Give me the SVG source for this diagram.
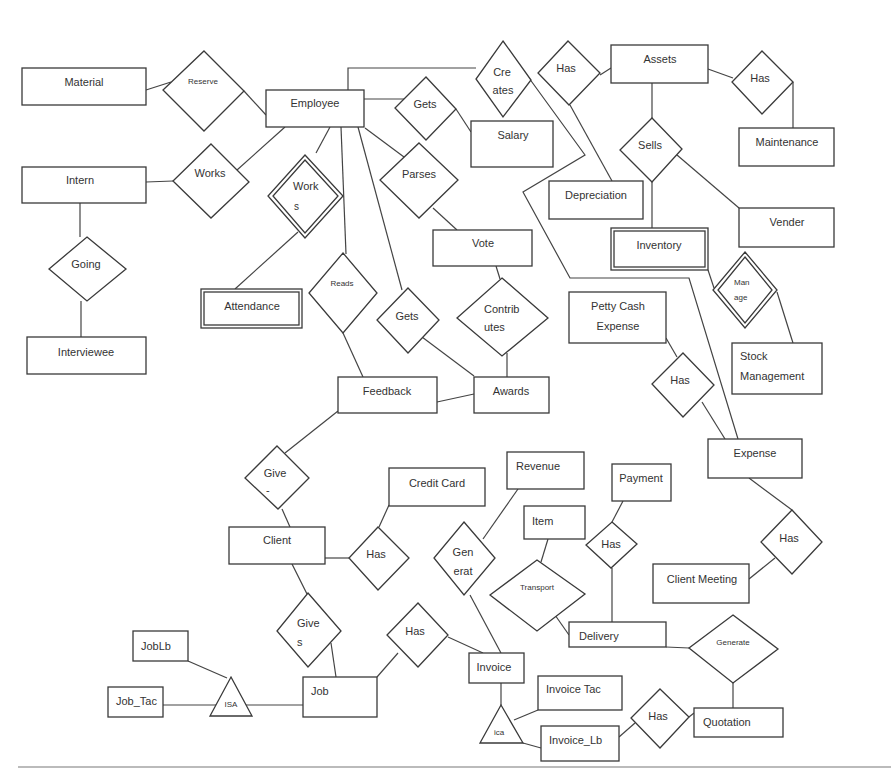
<svg xmlns="http://www.w3.org/2000/svg" width="891" height="771" viewBox="0 0 891 771">
<style>
rect,polygon{fill:#fff;stroke:#3a3a3a;stroke-width:1.3}
.c line,.c polyline{stroke:#444;stroke-width:1.2;fill:none}
text{font-family:"Liberation Sans",Arial,sans-serif;font-size:11px;fill:#333}
.m{text-anchor:middle}
.s{font-size:8px}
</style>
<rect x="0" y="0" width="891" height="771" style="fill:#fff;stroke:none"/>
<g id="connectors" class="c">
<line x1="146" y1="90" x2="171" y2="82"/>
<line x1="244" y1="91" x2="266" y2="115"/>
<line x1="146" y1="182" x2="173" y2="181"/>
<line x1="237" y1="170" x2="285" y2="127"/>
<line x1="80" y1="203" x2="80" y2="237"/>
<line x1="81" y1="301" x2="81" y2="337"/>
<polyline points="348,90 348,68 476,68"/>
<line x1="364" y1="99" x2="404" y2="99"/>
<line x1="456" y1="109" x2="471" y2="132"/>
<line x1="570" y1="105" x2="612" y2="181"/>
<line x1="600" y1="75" x2="611" y2="68"/>
<line x1="708" y1="69" x2="733" y2="78"/>
<line x1="793" y1="82" x2="793" y2="128"/>
<line x1="652" y1="83" x2="652" y2="118"/>
<line x1="652" y1="182" x2="652" y2="228"/>
<line x1="677" y1="155" x2="739" y2="208"/>
<polyline points="529,78 585,155 523,192 570,278 689,278 738,439"/>
<line x1="708" y1="270" x2="714" y2="288"/>
<line x1="777" y1="292" x2="793" y2="343"/>
<line x1="330" y1="127" x2="316" y2="153"/>
<line x1="298" y1="232" x2="235" y2="289"/>
<line x1="341" y1="127" x2="346" y2="254"/>
<line x1="343" y1="333" x2="363" y2="377"/>
<line x1="358" y1="127" x2="402" y2="290"/>
<line x1="422" y1="337" x2="474" y2="376"/>
<line x1="365" y1="128" x2="404" y2="157"/>
<line x1="433" y1="208" x2="457" y2="230"/>
<line x1="496" y1="266" x2="500" y2="279"/>
<line x1="507" y1="353" x2="507" y2="377"/>
<line x1="437" y1="402" x2="474" y2="394"/>
<line x1="338" y1="411" x2="285" y2="453"/>
<line x1="282" y1="509" x2="290" y2="527"/>
<line x1="325" y1="558" x2="349" y2="558"/>
<line x1="379" y1="527" x2="389" y2="505"/>
<line x1="292" y1="564" x2="307" y2="594"/>
<line x1="331" y1="643" x2="336" y2="677"/>
<line x1="377" y1="677" x2="398" y2="653"/>
<line x1="448" y1="637" x2="483" y2="653"/>
<line x1="470" y1="595" x2="501" y2="653"/>
<line x1="483" y1="539" x2="518" y2="489"/>
<line x1="548" y1="539" x2="541" y2="562"/>
<line x1="555" y1="615" x2="569" y2="635"/>
<line x1="623" y1="501" x2="612" y2="522"/>
<line x1="612" y1="568" x2="612" y2="622"/>
<line x1="666" y1="647" x2="689" y2="648"/>
<line x1="733" y1="683" x2="733" y2="708"/>
<line x1="689" y1="717" x2="694" y2="713"/>
<line x1="619" y1="737" x2="635" y2="723"/>
<line x1="501" y1="683" x2="501" y2="705"/>
<line x1="514" y1="720" x2="538" y2="710"/>
<line x1="523" y1="743" x2="541" y2="748"/>
<line x1="163" y1="705" x2="216" y2="705"/>
<line x1="246" y1="705" x2="303" y2="705"/>
<line x1="188" y1="661" x2="227" y2="678"/>
<line x1="666" y1="338" x2="677" y2="357"/>
<line x1="702" y1="402" x2="725" y2="439"/>
<line x1="749" y1="478" x2="792" y2="510"/>
<line x1="775" y1="558" x2="749" y2="579"/>
</g>
<line x1="18" y1="767" x2="891" y2="767" style="stroke:#bbb;stroke-width:2"/>
<g id="material"><rect x="22" y="68" width="124" height="37"/><text x="84" y="86" class="m">Material</text></g>
<g id="employee"><rect x="266" y="90" width="98" height="37"/><text x="315" y="107" class="m">Employee</text></g>
<g id="intern"><rect x="22" y="167" width="124" height="36"/><text x="80" y="184" class="m">Intern</text></g>
<g id="interviewee"><rect x="27" y="337" width="119" height="37"/><text x="86" y="356" class="m">Interviewee</text></g>
<g id="salary"><rect x="471" y="121" width="82" height="46"/><text x="513" y="139" class="m">Salary</text></g>
<g id="assets"><rect x="611" y="45" width="97" height="38"/><text x="660" y="63" class="m">Assets</text></g>
<g id="maintenance"><rect x="739" y="128" width="95" height="38"/><text x="787" y="146" class="m">Maintenance</text></g>
<g id="depreciation"><rect x="549" y="181" width="94" height="38"/><text x="596" y="199" class="m">Depreciation</text></g>
<g id="vender"><rect x="739" y="208" width="95" height="39"/><text x="787" y="226" class="m">Vender</text></g>
<g id="inventory"><rect x="611" y="228" width="97" height="42"/><rect x="614" y="231" width="91" height="36"/><text x="659" y="249" class="m">Inventory</text></g>
<g id="attendance"><rect x="201" y="289" width="101" height="39"/><rect x="204" y="292" width="95" height="33"/><text x="252" y="310" class="m">Attendance</text></g>
<g id="vote"><rect x="433" y="230" width="99" height="36"/><text x="483" y="247" class="m">Vote</text></g>
<g id="petty-cash-expense"><rect x="569" y="292" width="97" height="51"/><text x="618" y="310" class="m">Petty Cash</text><text x="618" y="330" class="m">Expense</text></g>
<g id="stock-management"><rect x="732" y="343" width="90" height="51"/><text x="740" y="360">Stock</text><text x="740" y="380">Management</text></g>
<g id="feedback"><rect x="338" y="377" width="99" height="36"/><text x="387" y="395" class="m">Feedback</text></g>
<g id="awards"><rect x="474" y="377" width="75" height="36"/><text x="511" y="395" class="m">Awards</text></g>
<g id="expense"><rect x="708" y="439" width="94" height="39"/><text x="755" y="457" class="m">Expense</text></g>
<g id="credit-card"><rect x="389" y="468" width="96" height="38"/><text x="437" y="487" class="m">Credit Card</text></g>
<g id="revenue"><rect x="507" y="452" width="77" height="37"/><text x="516" y="470">Revenue</text></g>
<g id="payment"><rect x="612" y="464" width="59" height="37"/><text x="641" y="482" class="m">Payment</text></g>
<g id="item"><rect x="524" y="506" width="61" height="33"/><text x="532" y="525">Item</text></g>
<g id="client"><rect x="229" y="527" width="96" height="37"/><text x="277" y="544" class="m">Client</text></g>
<g id="client-meeting"><rect x="653" y="564" width="96" height="39"/><text x="702" y="583" class="m">Client Meeting</text></g>
<g id="delivery"><rect x="569" y="622" width="97" height="25"/><text x="579" y="640">Delivery</text></g>
<g id="invoice"><rect x="469" y="653" width="55" height="30"/><text x="494" y="671" class="m">Invoice</text></g>
<g id="job"><rect x="303" y="677" width="74" height="40"/><text x="311" y="695">Job</text></g>
<g id="joblb"><rect x="133" y="631" width="55" height="30"/><text x="141" y="650">JobLb</text></g>
<g id="job-tac"><rect x="108" y="687" width="55" height="30"/><text x="116" y="705">Job_Tac</text></g>
<g id="invoice-tac"><rect x="538" y="676" width="84" height="34"/><text x="546" y="693">Invoice Tac</text></g>
<g id="invoice-lb"><rect x="541" y="726" width="78" height="35"/><text x="549" y="744">Invoice_Lb</text></g>
<g id="quotation"><rect x="694" y="708" width="89" height="29"/><text x="703" y="726">Quotation</text></g>
<g id="reserve"><polygon points="204,51 244,91 204,131 163,90"/><text x="203" y="84" class="m s">Reserve</text></g>
<g id="works"><polygon points="211,144 249,182 211,218 173,181"/><text x="210" y="177" class="m">Works</text></g>
<g id="creates"><polygon points="503,41 531,80 503,117 476,79"/><text x="502" y="76" class="m">Cre</text><text x="503" y="94" class="m">ates</text></g>
<g id="gets-salary"><polygon points="426,77 456,109 426,140 395,108"/><text x="425" y="108" class="m">Gets</text></g>
<g id="has-depreciation"><polygon points="568,41 600,73 569,105 538,73"/><text x="566" y="72" class="m">Has</text></g>
<g id="has-maintenance"><polygon points="762,51 793,82 762,114 732,82"/><text x="760" y="82" class="m">Has</text></g>
<g id="sells"><polygon points="652,118 682,149 652,182 620,150"/><text x="650" y="149" class="m">Sells</text></g>
<g id="parses"><polygon points="419,143 458,180 419,218 380,180"/><text x="419" y="178" class="m">Parses</text></g>
<g id="works-attendance"><polygon points="305,155 343,196 305,238 268,196"/><polygon points="305,160 338,196 305,233 273,196"/><text x="293" y="190">Work</text><text x="294" y="210" style="font-size:10px">s</text></g>
<g id="reads"><polygon points="343,253 377,293 343,333 309,293"/><text x="342" y="286" class="m s">Reads</text></g>
<g id="gets-awards"><polygon points="408,288 439,320 408,353 377,320"/><text x="407" y="320" class="m">Gets</text></g>
<g id="contributes"><polygon points="502,278 548,318 502,356 457,318"/><text x="484" y="313">Contrib</text><text x="484" y="331">utes</text></g>
<g id="manage"><polygon points="745,252 777,290 745,328 713,290"/><polygon points="745,257 772,290 745,323 718,290"/><text x="734" y="285" class="s">Man</text><text x="734" y="300" class="s">age</text></g>
<g id="has-expense"><polygon points="683,353 714,385 683,417 652,384"/><text x="680" y="384" class="m">Has</text></g>
<g id="has-client-meeting"><polygon points="792,510 822,542 792,574 761,542"/><text x="789" y="542" class="m">Has</text></g>
<g id="going"><polygon points="87,237 126,269 87,301 49,269"/><text x="86" y="268" class="m">Going</text></g>
<g id="give"><polygon points="277,446 309,478 278,509 245,478"/><text x="275" y="477" class="m">Give</text><text x="266" y="494">-</text></g>
<g id="has-credit-card"><polygon points="378,527 409,558 378,590 349,558"/><text x="376" y="558" class="m">Has</text></g>
<g id="generat"><polygon points="464,522 495,558 464,595 434,558"/><text x="463" y="556" class="m">Gen</text><text x="463" y="575" class="m">erat</text></g>
<g id="transport"><polygon points="537,560 585,594 537,631 490,595"/><text x="537" y="590" class="m s">Transport</text></g>
<g id="has-payment"><polygon points="612,522 637,544 611,568 586,545"/><text x="611" y="548" class="m">Has</text></g>
<g id="gives"><polygon points="308,593 341,631 308,667 277,631"/><text x="297" y="627">Give</text><text x="297" y="646">s</text></g>
<g id="has-invoice"><polygon points="418,603 448,635 418,667 387,635"/><text x="415" y="635" class="m">Has</text></g>
<g id="generate"><polygon points="733,615 778,649 733,683 689,648"/><text x="733" y="645" class="m s">Generate</text></g>
<g id="has-quotation"><polygon points="660,689 689,717 660,748 631,718"/><text x="658" y="720" class="m">Has</text></g>
<g id="isa"><polygon points="231,677 252,716 210,716"/><text x="231" y="707" class="m s">ISA</text></g>
<g id="ica"><polygon points="501,705 523,743 480,743"/><text x="499" y="735" class="m s">ica</text></g>
</svg>
